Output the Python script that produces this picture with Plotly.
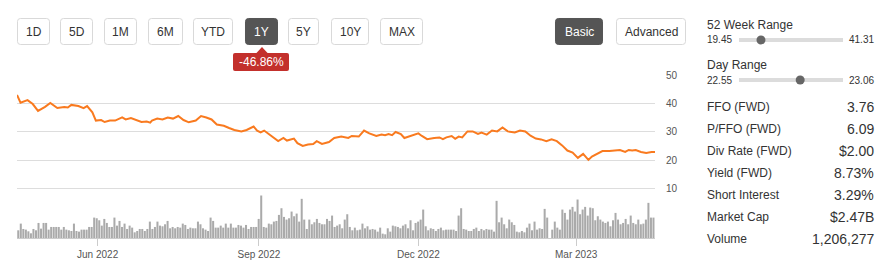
import plotly.graph_objects as go

# ---------------- data ----------------
price_dates = [
    "2022-04-16","2022-04-18","2022-04-22","2022-04-25","2022-04-28","2022-05-02","2022-05-05","2022-05-09",
    "2022-05-13","2022-05-15","2022-05-17","2022-05-21","2022-05-24","2022-05-26","2022-05-29","2022-05-31",
    "2022-06-03","2022-06-05","2022-06-08","2022-06-11","2022-06-15","2022-06-17","2022-06-20","2022-06-23",
    "2022-06-26","2022-06-29","2022-07-01","2022-07-02","2022-07-05","2022-07-08","2022-07-11","2022-07-14",
    "2022-07-17","2022-07-20","2022-07-23","2022-07-27","2022-07-30","2022-08-02","2022-08-05","2022-08-08",
    "2022-08-12","2022-08-15","2022-08-18","2022-08-22","2022-08-25","2022-08-29","2022-08-31","2022-09-02",
    "2022-09-04","2022-09-07","2022-09-10","2022-09-12","2022-09-15","2022-09-17","2022-09-21","2022-09-23",
    "2022-09-26","2022-09-29","2022-10-02","2022-10-04","2022-10-07","2022-10-11","2022-10-14","2022-10-18",
    "2022-10-22","2022-10-24","2022-10-28","2022-10-31","2022-11-03","2022-11-07","2022-11-10","2022-11-12",
    "2022-11-14","2022-11-16","2022-11-18","2022-11-21","2022-11-23","2022-11-27","2022-12-01","2022-12-03",
    "2022-12-06","2022-12-10","2022-12-13","2022-12-15","2022-12-17","2022-12-20","2022-12-22","2022-12-24",
    "2022-12-26","2022-12-29","2023-01-01","2023-01-04","2023-01-06","2023-01-09","2023-01-12","2023-01-15",
    "2023-01-18","2023-01-21","2023-01-25","2023-01-28","2023-01-31","2023-02-03","2023-02-06","2023-02-09",
    "2023-02-12","2023-02-15","2023-02-18","2023-02-21","2023-02-24","2023-02-27","2023-03-02","2023-03-05",
    "2023-03-08","2023-03-10","2023-03-13","2023-03-16","2023-03-20","2023-03-23","2023-03-26","2023-03-29",
    "2023-03-31","2023-04-02","2023-04-04","2023-04-07","2023-04-10","2023-04-13","2023-04-15",
]
price_values = [
    43.0,40.3,41.2,39.8,37.4,38.8,40.2,38.4,
    38.8,38.6,39.5,39.1,38.4,39.1,36.9,34.0,
    34.2,33.5,34.0,34.0,35.1,34.4,34.9,34.2,
    33.5,33.7,33.3,34.0,34.7,34.4,35.1,34.7,
    35.6,34.2,33.4,34.0,35.6,35.1,34.4,32.6,
    32.2,31.4,30.7,30.2,30.7,31.9,30.5,29.9,
    30.5,29.1,27.9,26.8,27.9,27.0,27.7,26.1,
    25.1,25.6,25.8,26.8,25.8,26.5,27.9,28.4,
    27.9,28.6,28.4,30.5,29.5,28.6,29.1,28.9,
    29.3,28.9,30.0,29.3,27.9,28.6,29.5,28.6,
    27.5,27.9,28.1,27.5,28.1,28.6,27.6,28.4,
    28.1,30.2,30.2,29.3,29.8,29.1,30.5,30.2,
    31.6,30.2,29.8,30.5,30.2,28.7,27.7,27.4,
    26.8,27.4,26.8,25.3,23.5,22.8,20.9,22.3,
    20.2,21.4,22.3,23.3,23.3,23.5,23.7,23.0,
    23.7,23.5,23.7,23.0,22.6,23.0,23.0,
]
# daily volume (millions of shares), one per trading session; None = missing session
volume_m = [
    0.46,0.86,0.54,0.50,0.40,0.28,0.54,0.46,0.90,0.56,
    0.90,0.90,0.50,0.66,0.66,0.66,0.66,0.50,0.66,0.50,
    0.46,0.42,0.86,0.42,0.38,0.50,0.50,0.50,0.66,0.66,
    1.22,1.18,1.06,0.74,1.14,0.90,0.66,0.66,1.22,0.74,
    1.02,0.66,0.86,0.54,0.74,0.62,0.34,0.42,0.54,0.54,
    0.42,0.54,0.98,0.54,0.66,0.98,0.74,0.70,0.82,1.02,
    0.58,0.66,0.58,0.66,0.62,0.86,0.78,0.54,0.62,0.58,
    0.58,0.98,0.82,0.58,0.50,0.42,1.22,1.02,0.62,0.62,
    0.74,0.62,0.86,0.62,0.86,0.62,0.62,0.78,0.74,0.62,
    0.78,0.54,0.66,0.66,0.66,1.14,2.54,0.66,0.62,0.86,
    0.82,0.98,1.02,1.38,1.78,1.26,1.10,1.18,1.58,1.30,
    1.46,0.98,2.34,1.10,0.54,1.10,0.82,0.94,1.14,0.90,
    0.82,0.82,1.14,1.02,1.34,0.66,
    0.74,0.82,0.58,1.10,1.42,0.66,0.46,0.62,0.46,0.50,
    0.86,0.58,0.70,0.50,0.54,0.50,0.38,0.62,0.26,0.22,
    0.58,0.38,0.74,0.70,0.66,0.58,0.74,0.82,0.58,1.06,
    0.46,0.90,0.98,1.10,1.70,0.70,0.46,0.58,0.54,0.42,
    0.54,0.62,0.46,0.50,0.50,0.50,0.50,0.42,1.34,1.78,
    0.54,0.50,0.42,0.42,0.54,0.62,0.42,0.54,0.46,0.54,
    0.50,0.50,0.38,2.22,0.94,1.22,0.82,0.58,1.10,0.94,
    0.78,0.38,0.34,0.42,0.34,0.62,0.86,0.46,0.98,0.50,
    0.58,0.54,1.74,1.22,
    None,
    0.50,0.98,0.62,0.50,1.70,1.50,1.10,1.70,1.86,1.58,
    2.30,1.42,1.70,1.86,1.34,1.82,1.78,1.06,1.30,1.10,
    0.98,0.90,0.98,0.70,1.06,1.50,1.10,0.82,0.90,1.14,
    0.82,1.34,0.90,0.82,1.10,0.82,0.86,1.10,2.10,1.22,
    1.22,
]
x_tick_dates = ["2022-06-01", "2022-09-01", "2022-12-01", "2023-03-01"]
x_tick_text = ["Jun 2022", "Sep 2022", "Dec 2022", "Mar 2023"]
y_ticks = [10, 20, 30, 40, 50]

range_buttons = ["1D", "5D", "1M", "6M", "YTD", "1Y", "5Y", "10Y", "MAX"]
active_button = "1Y"
change_text = "-46.86%"
view_buttons = ["Basic", "Advanced"]
week52 = ("19.45", "41.31", 24.07)
day_range = ("22.55", "23.06", 22.85)
stat_labels = ["FFO (FWD)", "P/FFO (FWD)", "Div Rate (FWD)", "Yield (FWD)",
               "Short Interest", "Market Cap", "Volume"]
stat_values = ["3.76", "6.09", "$2.00", "8.73%", "3.29%", "$2.47B", "1,206,277"]

# ---------------- layout geometry (pixels) ----------------
W, H = 890, 266
PL, PR, PT, PB = 17, 655, 75, 238
FONT = "Liberation Sans, Arial, sans-serif"
ORANGE = "#f97a1f"

def px(x):
    return (x - PL) / (PR - PL)

def py(y):
    return (PB - y) / (PB - PT)

def rrect(x0, y0, x1, y1, r):
    pts = [
        ("M", [(x0 + r, y0)]), ("L", [(x1 - r, y0)]), ("Q", [(x1, y0), (x1, y0 + r)]),
        ("L", [(x1, y1 - r)]), ("Q", [(x1, y1), (x1 - r, y1)]), ("L", [(x0 + r, y1)]),
        ("Q", [(x0, y1), (x0, y1 - r)]), ("L", [(x0, y0 + r)]), ("Q", [(x0, y0), (x0 + r, y0)]),
    ]
    s = ""
    for cmd, ps in pts:
        s += cmd + " " + " ".join(f"{px(a):.5f},{py(b):.5f}" for a, b in ps) + " "
    return s + "Z"

fig = go.Figure()

fig.add_trace(go.Bar(
    x=list(range(len(volume_m))), y=volume_m,
    marker=dict(color="#aaaaaa", line=dict(width=0)),
    xaxis="x2", yaxis="y2", hoverinfo="skip", showlegend=False,
))
fig.add_trace(go.Scatter(
    x=price_dates, y=price_values, mode="lines",
    line=dict(color=ORANGE, width=2), xaxis="x", yaxis="y",
    hoverinfo="skip", showlegend=False,
))

shapes = []
annotations = []

# range buttons
btn_x = [(17, 50), (60, 93), (104, 137), (148, 183), (193, 233), (245, 278), (288, 319), (331, 369), (380, 423)]
for lab, (a, b) in zip(range_buttons, btn_x):
    act = lab == active_button
    shapes.append(dict(type="path", path=rrect(a + 0.5, 18.5, b - 0.5, 44.5, 3), xref="paper", yref="paper",
                       fillcolor="#555555" if act else "white",
                       line=dict(color="#555555" if act else "#d9d9d9", width=1)))
    annotations.append(dict(x=px((a + b) / 2), y=py(31.5), xref="paper", yref="paper", text=lab,
                            showarrow=False, xanchor="center", yanchor="middle",
                            font=dict(family=FONT, size=12, color="white" if act else "#333")))

# change badge
shapes.append(dict(type="path", path=rrect(233, 53, 289, 71, 2), xref="paper", yref="paper",
                   fillcolor="#c3302c", line=dict(width=0)))
shapes.append(dict(type="path",
                   path=f"M {px(256):.5f},{py(53.5):.5f} L {px(262):.5f},{py(47):.5f} L {px(268):.5f},{py(53.5):.5f} Z",
                   xref="paper", yref="paper", fillcolor="#c3302c", line=dict(width=0)))
annotations.append(dict(x=px(261), y=py(62), xref="paper", yref="paper", text=change_text, showarrow=False,
                        xanchor="center", yanchor="middle", font=dict(family=FONT, size=12, color="white")))

# view buttons
for lab, (a, b), act in zip(view_buttons, [(555, 603), (616, 686)], [True, False]):
    shapes.append(dict(type="path", path=rrect(a + 0.5, 18.5, b - 0.5, 44.5, 3), xref="paper", yref="paper",
                       fillcolor="#555555" if act else "white",
                       line=dict(color="#555555" if act else "#d9d9d9", width=1)))
    annotations.append(dict(x=px((a + b) / 2), y=py(31.5), xref="paper", yref="paper", text=lab,
                            showarrow=False, xanchor="center", yanchor="middle",
                            font=dict(family=FONT, size=12, color="white" if act else "#333")))

# range sliders in side panel
def range_block(title, lo, hi, cur, ytitle, yrow):
    annotations.append(dict(x=px(705), y=py(ytitle), xref="paper", yref="paper", text=title, showarrow=False,
                            xanchor="left", yanchor="middle", font=dict(family=FONT, size=12, color="#333")))
    annotations.append(dict(x=px(705), y=py(yrow), xref="paper", yref="paper", text=lo, showarrow=False,
                            xanchor="left", yanchor="middle", font=dict(family=FONT, size=10, color="#333")))
    annotations.append(dict(x=px(876), y=py(yrow), xref="paper", yref="paper", text=hi, showarrow=False,
                            xanchor="right", yanchor="middle", font=dict(family=FONT, size=10, color="#333")))
    shapes.append(dict(type="rect", x0=px(739), x1=px(843), y0=py(yrow - 2), y1=py(yrow + 2),
                       xref="paper", yref="paper", fillcolor="#dcdcdc", line=dict(width=0)))
    lo_v, hi_v = float(lo), float(hi)
    cx = 739 + (cur - lo_v) / (hi_v - lo_v) * (843 - 739)
    shapes.append(dict(type="circle", x0=px(cx - 4.5), x1=px(cx + 4.5), y0=py(yrow - 4.5), y1=py(yrow + 4.5),
                       xref="paper", yref="paper", fillcolor="#666666", line=dict(width=0)))

range_block("52 Week Range", week52[0], week52[1], week52[2], 25, 40)
range_block("Day Range", day_range[0], day_range[1], day_range[2], 65, 80)

for i, (lab, val) in enumerate(zip(stat_labels, stat_values)):
    yy = 107 + i * 22
    annotations.append(dict(x=px(705), y=py(yy), xref="paper", yref="paper", text=lab, showarrow=False,
                            xanchor="left", yanchor="middle", font=dict(family=FONT, size=12, color="#333")))
    annotations.append(dict(x=px(876), y=py(yy), xref="paper", yref="paper", text=val, showarrow=False,
                            xanchor="right", yanchor="middle", font=dict(family=FONT, size=14, color="#333")))

vol_top = max(v for v in volume_m if v is not None)

fig.update_layout(
    width=W, height=H, autosize=False,
    margin=dict(l=PL, r=W - PR, t=PT, b=H - PB, pad=0),
    paper_bgcolor="white", plot_bgcolor="white",
    font=dict(family=FONT, color="#555"),
    bargap=0.2,
    xaxis=dict(type="date", range=["2022-04-16", "2023-04-15"], tickvals=x_tick_dates, ticktext=x_tick_text,
               ticks="outside", ticklen=7, tickcolor="#cccccc", showgrid=False, showline=True,
               linecolor="#cccccc", linewidth=1, zeroline=False, automargin=False,
               tickfont=dict(size=10, color="#555")),
    xaxis2=dict(overlaying="x", range=[-0.5, 251.6], visible=False, automargin=False),
    yaxis=dict(range=[-7.2, 50], tickvals=y_ticks, side="right", showgrid=True, gridcolor="#dddddd",
               zeroline=False, ticks="", ticklabelstandoff=10, automargin=False,
               tickfont=dict(size=10, color="#555")),
    yaxis2=dict(overlaying="y", range=[0, vol_top * 163 / 42.5], visible=False, automargin=False),
    shapes=shapes, annotations=annotations,
)

fig.write_html("out.html")
